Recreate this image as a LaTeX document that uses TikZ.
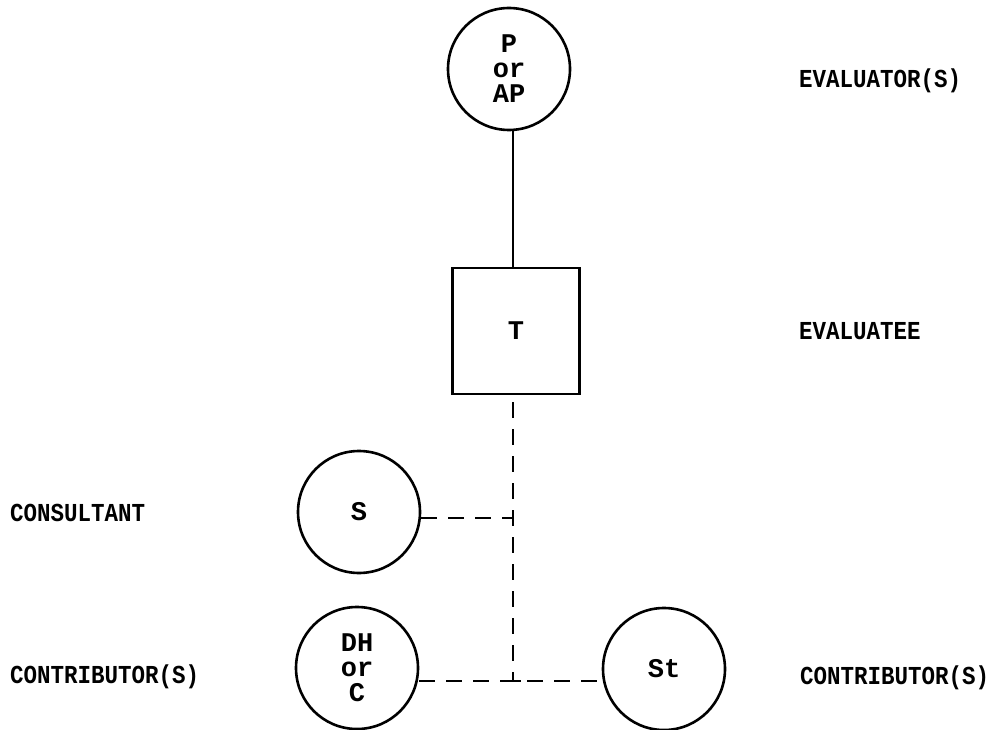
\documentclass[tikz,border=0pt]{standalone}
\usepackage{fontspec}
\setmonofont{Liberation Mono}
\newcommand{\tallstr}[1]{\scalebox{1}[1.15]{#1}}
\begin{document}
\begin{tikzpicture}[x=1pt,y=-1pt,
  circ/.style={circle,draw,line width=2.6pt,minimum size=122pt,inner sep=0pt,align=center,
    font=\ttfamily\bfseries\fontsize{27}{25}\selectfont},
  sq/.style={rectangle,draw,line width=2.6pt,minimum width=127pt,minimum height=126pt,inner sep=0pt,
    font=\ttfamily\bfseries\fontsize{27}{25}\selectfont},
  lab/.style={anchor=west,inner sep=0pt,font=\ttfamily\bfseries\fontsize{22.5}{24}\selectfont},
  solidline/.style={line width=2.2pt},
  dashline/.style={line width=2.4pt,dash pattern=on 16pt off 11pt}]
\useasboundingbox (0,0) rectangle (993,730);
\node[circ] (P) at (509,69) {P\\or\\AP};
\node[sq] (T) at (516,331) {T};
\node[circ] (S) at (359,512) {S};
\node[circ] (DH) at (357,668) {DH\\or\\C};
\node[circ] (St) at (664,669) {St};
\coordinate (Tb) at (513,402);
\coordinate (J1) at (513,518);
\coordinate (J2) at (513,681);
\draw[solidline] (P.south -| 513,0) -- (T.north -| 513,0);
\draw[dashline] (Tb) -- (J2);
\draw[dashline] (J1 -| S.east) -- (J1);
\draw[dashline] (J2 -| DH.east) -- (J2 -| St.west);
\draw[line width=2.2pt] (505,681) -- (521,681);
\node[lab] (l1) at (799,81) {\tallstr{EVALUATOR(S)}};
\node[lab] (l2) at (799,331) {\tallstr{EVALUATEE}};
\node[lab] (l3) at (10,513) {\tallstr{CONSULTANT}};
\node[lab] (l4) at (10,677) {\tallstr{CONTRIBUTOR(S)}};
\node[lab] (l5) at (800,678) {\tallstr{CONTRIBUTOR(S)}};
\end{tikzpicture}
\end{document}
